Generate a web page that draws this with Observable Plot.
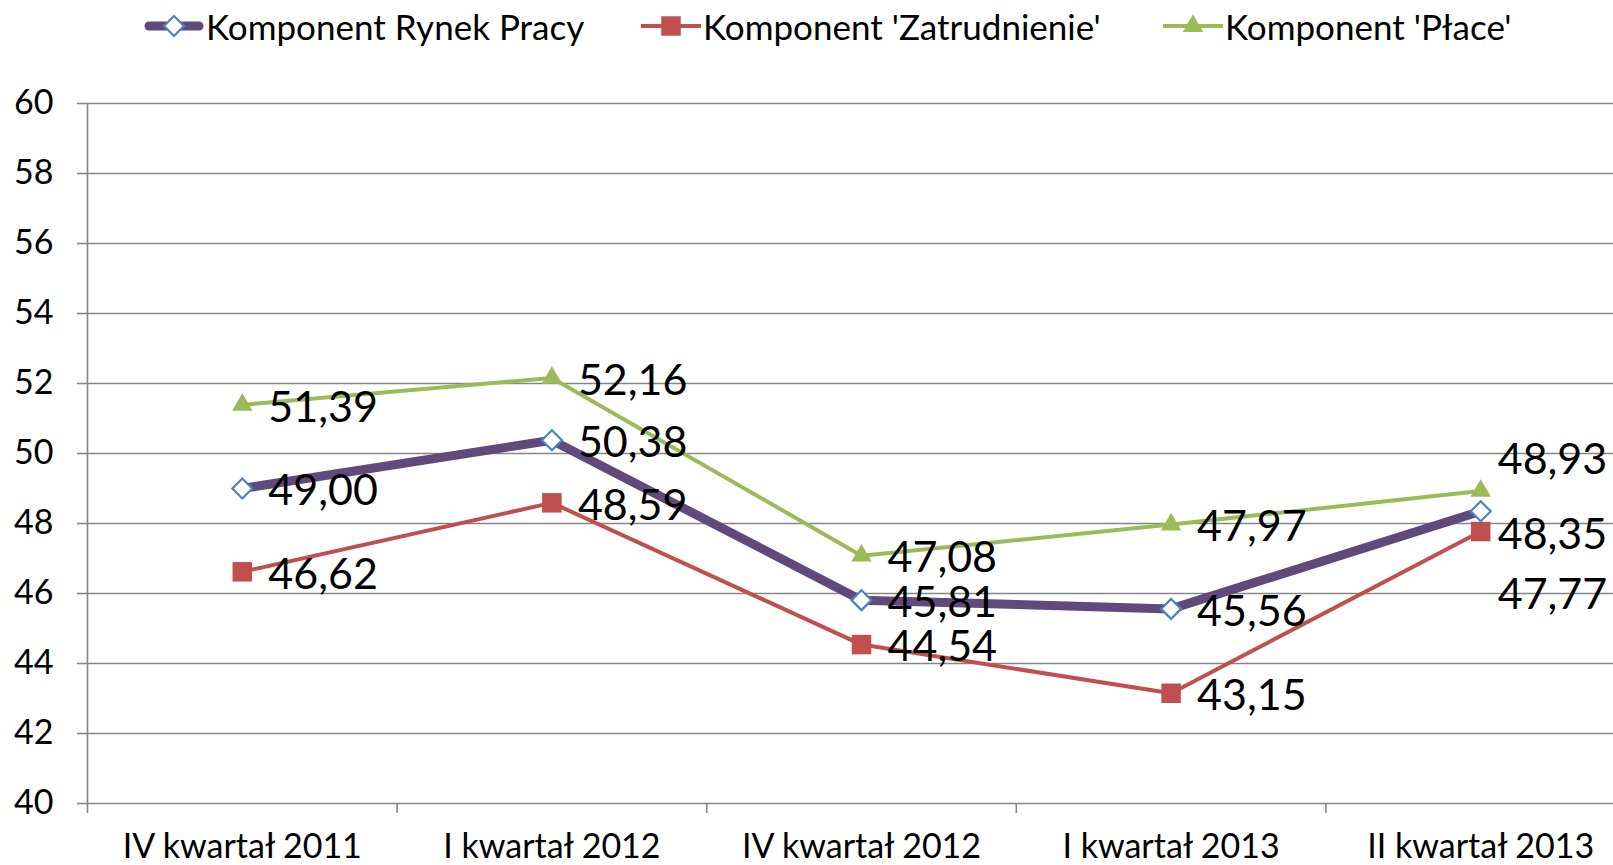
<!DOCTYPE html>
<html>
<head>
<meta charset="utf-8">
<script src="https://cdn.jsdelivr.net/npm/d3@7"></script>
<script src="https://cdn.jsdelivr.net/npm/@observablehq/plot@0.6"></script>
<style>
  html, body { margin: 0; padding: 0; background: #fff; overflow: hidden; }
  body { width: 1613px; height: 865px; position: relative; font-family: Lato, "Open Sans", sans-serif; }
  #legend { position: absolute; top: 0; left: 0; width: 1613px; height: 52px; z-index: 2; }
  .item { position: absolute; top: 0; height: 52px; display: flex; align-items: center; font-size: 35px; color: #000; white-space: nowrap; }
  .item svg { display: block; margin-right: 2px; }
  #chart { position: absolute; top: 0; left: 0; }
</style>
</head>
<body>
<div id="legend"></div>
<div id="chart"></div>
<script>
const categories = ["IV kwartał 2011", "I kwartał 2012", "IV kwartał 2012", "I kwartał 2013", "II kwartał 2013"];
const seriesNames = ["Komponent Rynek Pracy", "Komponent 'Zatrudnienie'", "Komponent 'Płace'"];
const rynekPracy   = [49.00, 50.38, 45.81, 45.56, 48.35];
const zatrudnienie = [46.62, 48.59, 44.54, 43.15, 47.77];
const place        = [51.39, 52.16, 47.08, 47.97, 48.93];
const yTicks = [40, 42, 44, 46, 48, 50, 52, 54, 56, 58, 60];

const styles = [
  {values: rynekPracy,   color: "#604A7B", width: 9, symbol: "diamond2", r: 9, fill: "#fff", stroke: "#4F81BD", lastDy: 24, legendLeft: 144},
  {values: zatrudnienie, color: "#C0504D", width: 4, symbol: "square",   r: 11, fill: "#C0504D", stroke: "none", lastDy: 64, legendLeft: 641},
  {values: place,        color: "#9BBB59", width: 4, symbol: "triangle", r: 7.6, fill: "#9BBB59", stroke: "none", lastDy: -31, legendLeft: 1163}
];

const fmt = v => v.toFixed(2).replace(".", ",");
const gray = "#868686";

const marks = [
  Plot.gridY(yTicks, {stroke: gray, strokeOpacity: 1, strokeWidth: 1.6}),
  Plot.ruleX([0], {stroke: gray, strokeWidth: 1.6}),
  Plot.axisY({ticks: yTicks, tickSize: 10, tickPadding: 24, stroke: gray, strokeWidth: 1.6, fontSize: 34, fill: "#000", label: null}),
  Plot.axisX({ticks: d3.range(0, categories.length + 1), tickSize: 10, tickFormat: () => "", stroke: gray, strokeWidth: 1.6, label: null}),
  Plot.axisX({ticks: categories.map((c, i) => i + 0.5), tickSize: 0, tickPadding: 30, tickFormat: d => categories[Math.floor(d)], fontSize: 34, fill: "#000", label: null})
];

styles.forEach((s, k) => {
  const data = s.values.map((v, i) => ({x: i + 0.5, y: v, i}));
  marks.push(Plot.line(data, {x: "x", y: "y", stroke: s.color, strokeWidth: s.width, strokeLinejoin: "round", strokeLinecap: k === 0 ? "round" : "butt"}));
  marks.push(Plot.dot(data, {x: "x", y: "y", symbol: s.symbol, r: s.r, fill: s.fill, stroke: s.stroke, strokeWidth: k === 0 ? 2.2 : 0}));
});

styles.forEach(s => {
  const data = s.values.map((v, i) => ({x: i + 0.5, y: v, i}));
  const last = categories.length - 1;
  marks.push(Plot.text(data.filter(d => d.i < last), {x: "x", y: "y", text: d => fmt(d.y), textAnchor: "start", dx: 26, dy: 3, fontSize: 43, fill: "#000"}));
  marks.push(Plot.text(data.filter(d => d.i === last), {x: "x", y: "y", text: d => fmt(d.y), textAnchor: "start", dx: 17, dy: s.lastDy, fontSize: 43, fill: "#000"}));
});

const chart = Plot.plot({
  width: 1613,
  height: 865,
  marginTop: 103,
  marginBottom: 62,
  marginLeft: 87,
  marginRight: -22,
  style: {fontFamily: "Lato, 'Open Sans', sans-serif", background: "#fff", overflow: "hidden"},
  x: {type: "linear", domain: [0, categories.length]},
  y: {domain: [40, 60]},
  marks
});
document.getElementById("chart").appendChild(chart);

// Legend
const legend = d3.select("#legend");
styles.forEach((s, k) => {
  const item = legend.append("div").attr("class", "item").style("left", s.legendLeft + "px");
  const svg = item.append("svg").attr("width", 60).attr("height", 30);
  svg.append("line").attr("x1", k === 0 ? 5 : 0).attr("x2", k === 0 ? 55 : 60).attr("y1", 15).attr("y2", 15)
    .attr("stroke", s.color).attr("stroke-width", s.width).attr("stroke-linecap", k === 0 ? "round" : "butt");
  const sym = {diamond2: d3.symbolDiamond2, square: d3.symbolSquare, triangle: d3.symbolTriangle}[s.symbol];
  svg.append("path").attr("transform", "translate(30,15)")
    .attr("d", d3.symbol(sym, Math.PI * s.r * s.r)())
    .attr("fill", s.fill).attr("stroke", s.stroke).attr("stroke-width", k === 0 ? 2.2 : 0);
  item.append("span").text(seriesNames[k]);
});
</script>
</body>
</html>
